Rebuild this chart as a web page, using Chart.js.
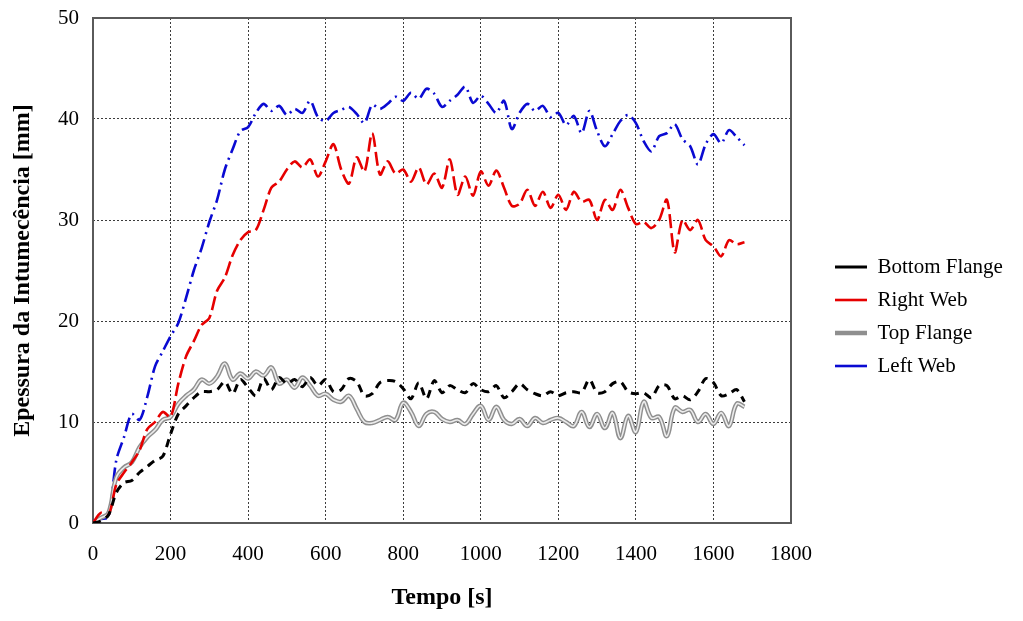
<!DOCTYPE html>
<html>
<head>
<meta charset="utf-8">
<script src="https://cdn.jsdelivr.net/npm/chart.js@4.4.1/dist/chart.umd.min.js"></script>
<style>
  html, body { margin: 0; padding: 0; background: #fff; }
  #wrap { width: 1023px; height: 621px; }
</style>
</head>
<body>
<div id="wrap"><canvas id="chart" width="1023" height="621"></canvas></div>
<script>
// time axis (s), one reading every 20 s
const times = [
  0, 20, 40, 60, 80, 100, 120, 140, 160, 180,
  200, 220, 240, 260, 280, 300, 320, 340, 360, 380,
  400, 420, 440, 460, 480, 500, 520, 540, 560, 580,
  600, 620, 640, 660, 680, 700, 720, 740, 760, 780,
  800, 820, 840, 860, 880, 900, 920, 940, 960, 980,
  1000, 1020, 1040, 1060, 1080, 1100, 1120, 1140, 1160, 1180,
  1200, 1220, 1240, 1260, 1280, 1300, 1320, 1340, 1360, 1380,
  1400, 1420, 1440, 1460, 1480, 1500, 1520, 1540, 1560, 1580,
  1600, 1620, 1640, 1660, 1680
];

const bottomFlange = [
  0, 0.2, 0.8, 3.0, 4.0, 4.2, 5.0, 5.6, 6.2, 6.6,
  8.8, 10.8, 11.6, 12.4, 13.0, 13.0, 13.2, 14.0, 12.8, 14.2,
  13.4, 12.6, 14.3, 13.2, 14.4, 13.8, 14.2, 13.5, 14.4, 13.6,
  14.2, 13.0, 13.2, 14.3, 14.0, 12.6, 12.8, 13.9, 14.1, 14.0,
  13.3, 12.3, 13.9, 12.3, 14.1, 12.9, 13.6, 13.2, 12.9, 13.8,
  13.2, 13.0, 13.6, 12.4, 13.0, 13.8, 13.2, 12.8, 12.6, 13.0,
  12.6, 12.9, 13.0, 12.9, 14.2, 12.9, 13.0, 13.8, 14.0, 13.0,
  12.8, 12.9, 12.4, 13.6, 13.6, 12.3, 12.6, 12.2, 13.0, 14.3,
  13.9, 12.6, 12.8, 13.2, 12.0
];

const rightWeb = [
  0, 1.0, 0.8, 3.8, 5.0, 6.0, 7.2, 9.3, 10.0, 11.0,
  10.5, 13.8, 16.5, 18.0, 19.6, 20.3, 23.0, 24.3, 26.5, 28.0,
  28.8, 29.0, 31.0, 33.2, 33.8, 35.0, 35.8, 35.2, 36.0, 34.3,
  35.8, 37.5, 35.0, 33.6, 36.2, 34.8, 38.6, 34.5, 35.8, 34.6,
  35.0, 33.8, 35.2, 33.5, 34.6, 33.2, 36.0, 32.5, 34.3, 32.4,
  34.8, 33.4, 34.9, 33.2, 31.4, 31.6, 33.0, 31.4, 32.8, 31.2,
  32.5, 31.0, 32.8, 31.8, 32.0, 30.0, 32.0, 31.0, 33.0, 31.2,
  29.6, 29.8, 29.2, 30.0, 32.0, 26.8, 30.0, 29.0, 30.0, 28.0,
  27.4, 26.4, 28.0, 27.6, 27.8
];

const topFlange = [
  0, 0.5, 1.0, 4.5, 5.5, 6.0, 7.5, 8.5, 9.2, 10.2,
  10.5, 11.8, 12.6, 13.2, 14.2, 13.8, 14.5, 15.8, 14.2, 14.8,
  14.3, 15.0, 14.6, 15.4, 13.8, 14.2, 13.4, 14.4, 13.6, 12.6,
  12.8, 12.2, 12.0, 12.6, 11.3, 10.0, 9.9, 10.2, 10.5, 10.2,
  11.9, 11.0, 9.6, 10.8, 11.0, 10.3, 10.0, 10.2, 9.8, 10.8,
  11.6, 10.2, 11.5, 10.2, 9.8, 10.3, 9.6, 10.4, 9.9, 10.2,
  10.4, 10.0, 9.6, 11.0, 9.5, 10.8, 9.4, 10.9, 8.4, 10.6,
  9.0, 12.0, 10.4, 10.5, 8.6, 11.4, 11.0, 11.2, 10.0, 10.8,
  9.8, 10.9, 9.6, 11.8, 11.5
];

const leftWeb = [
  0.2, 0.4, 0.6, 6.2, 8.5, 10.8, 10.2, 12.5, 15.5, 17.0,
  18.5, 19.8, 22.3, 25.0, 27.2, 29.8, 32.0, 35.0, 37.0, 38.8,
  39.2, 40.6, 41.5, 40.8, 41.3, 40.4, 41.0, 40.6, 41.8, 40.2,
  39.8, 40.6, 40.9, 41.2, 40.5, 39.6, 41.4, 41.0, 41.5, 42.2,
  41.8, 42.6, 42.0, 43.0, 42.5, 41.2, 41.8, 42.4, 43.2, 41.6,
  42.3, 41.5, 40.6, 41.8, 39.0, 40.6, 41.5, 40.8, 41.3, 40.2,
  40.6, 39.4, 40.3, 38.6, 40.8, 38.8, 37.3, 38.5, 39.8, 40.4,
  39.6, 37.8, 36.8, 38.3, 38.6, 39.5, 38.0, 37.3, 35.5, 37.5,
  38.5, 37.6, 38.9, 38.2, 37.4
];

const xTicks = [0, 200, 400, 600, 800, 1000, 1200, 1400, 1600, 1800];
const yTicks = [0, 10, 20, 30, 40, 50];

const SERIF = '"Liberation Serif", "Times New Roman", serif';

function pts(values) {
  return values.map((v, i) => ({x: times[i], y: v}));
}

// legend sits in a 232px wide column, items start 44px right of the plot
const legendPlace = {
  id: 'legendPlace',
  beforeInit(chart) {
    const lg = chart.legend;
    if (!lg) return;
    const fit = lg.fit;
    lg.fit = function() {
      fit.call(this);
      this.width = 232;
    };
  },
  afterLayout(chart) {
    const lg = chart.legend;
    if (!lg) return;
    const w = lg.right - lg.left;
    lg.left = chart.chartArea.right + 32;
    lg.right = lg.left + w;
    lg.top -= 3;
    lg.bottom -= 3;
  }
};

// solid frame around the plot area
const frame = {
  id: 'frame',
  beforeDatasetsDraw(chart) {
    const {ctx, chartArea: a} = chart;
    ctx.save();
    ctx.strokeStyle = '#5a5a5a';
    ctx.lineWidth = 2;
    ctx.strokeRect(a.left, a.top, a.right - a.left, a.bottom - a.top);
    ctx.restore();
  }
};

new Chart(document.getElementById('chart'), {
  type: 'line',
  data: {
    datasets: [
      {
        label: 'Bottom Flange',
        data: pts(bottomFlange),
        borderColor: '#000000',
        borderWidth: 3,
        borderDash: [8, 6],
        tension: 0.3,
        order: 1
      },
      {
        label: 'Right Web',
        data: pts(rightWeb),
        borderColor: '#e60000',
        borderWidth: 2.6,
        borderDash: [14, 5],
        tension: 0.3,
        order: 2
      },
      {
        label: 'Top Flange',
        data: pts(topFlange),
        borderColor: '#8f8f8f',
        borderWidth: 4.5,
        tension: 0.4,
        order: 3
      },
      {
        // light core of the double line
        label: '',
        data: pts(topFlange),
        borderColor: '#ececec',
        borderWidth: 1.6,
        tension: 0.4,
        order: 2.9
      },
      {
        label: 'Left Web',
        data: pts(leftWeb),
        borderColor: '#0a0ad2',
        borderWidth: 2.6,
        borderDash: [14, 5, 2, 5],
        tension: 0.3,
        order: 4
      }
    ]
  },
  options: {
    responsive: false,
    animation: false,
    events: [],
    elements: { point: { radius: 0 } },
    layout: { padding: { top: 18, right: 0, bottom: 0, left: 0 } },
    scales: {
      x: {
        type: 'linear',
        min: 0,
        max: 1800,
        afterBuildTicks: (s) => { s.ticks = xTicks.map(v => ({value: v})); },
        afterFit: (s) => {
          s.height = 98;
          s.paddingLeft = 0;
          s.paddingRight = 0;
        },
        ticks: {
          padding: 19,
          maxRotation: 0,
          color: '#000',
          font: { family: SERIF, size: 21 },
          callback: (v) => String(v)
        },
        grid: { color: '#3c3c3c', lineWidth: 1, drawTicks: false },
        border: { display: false, dash: [2, 2] },
        title: {
          display: true,
          text: 'Tempo [s]',
          color: '#000',
          font: { family: SERIF, size: 24, weight: 'bold' },
          padding: { top: 16, bottom: 9 }
        }
      },
      y: {
        min: 0,
        max: 50,
        afterBuildTicks: (s) => { s.ticks = yTicks.map(v => ({value: v})); },
        afterFit: (s) => {
          s.width = 93;
          s.paddingTop = 0;
          s.paddingBottom = 0;
        },
        ticks: {
          padding: 14,
          color: '#000',
          font: { family: SERIF, size: 21 },
          callback: (v) => String(v)
        },
        grid: { color: '#3c3c3c', lineWidth: 1, drawTicks: false },
        border: { display: false, dash: [2, 2] },
        title: {
          display: true,
          text: 'Epessura da Intumecência [mm]',
          color: '#000',
          font: { family: SERIF, size: 24, weight: 'bold' },
          padding: { top: 8, bottom: 7 }
        }
      }
    },
    plugins: {
      tooltip: { enabled: false },
      legend: {
        position: 'right',
        align: 'center',
        labels: {
          usePointStyle: true,
          pointStyle: 'line',
          pointStyleWidth: 32,
          padding: 12,
          color: '#000',
          font: { family: SERIF, size: 21 },
          filter: (item) => item.text !== ''
        }
      }
    }
  },
  plugins: [legendPlace, frame]
});
</script>
</body>
</html>
